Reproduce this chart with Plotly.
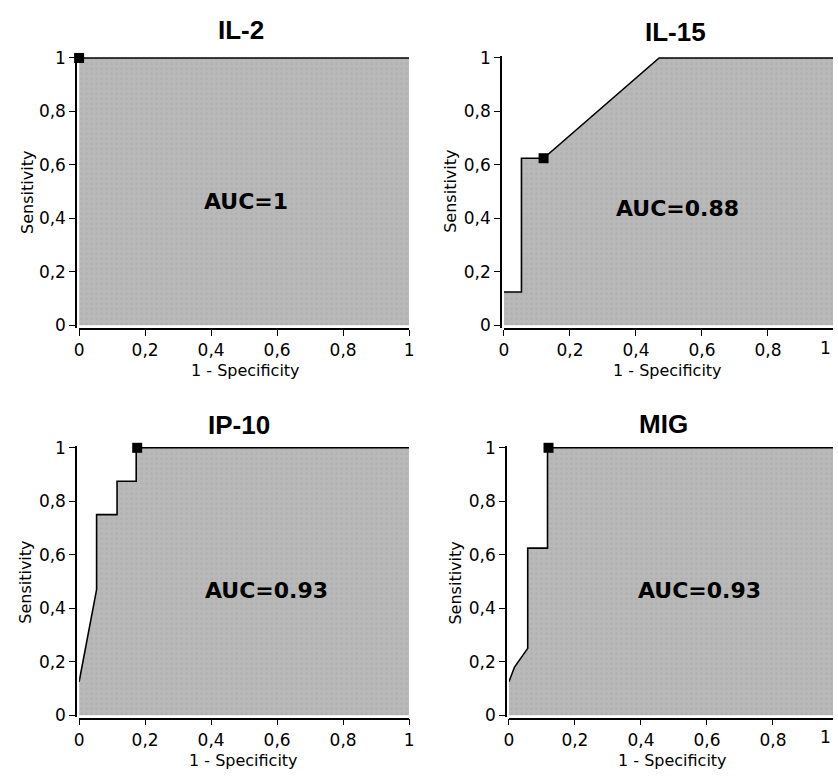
import plotly.graph_objects as go

W, H = 838, 781

# ---- data ----
titles = ["IL-2", "IL-15", "IP-10", "MIG"]
auc_labels = ["AUC=1", "AUC=0.88", "AUC=0.93", "AUC=0.93"]

il2_fpr = [0, 1]
il2_tpr = [1, 1]
il15_fpr = [0, 0.053, 0.053, 0.12, 0.47, 1]
il15_tpr = [0.125, 0.125, 0.625, 0.625, 1, 1]
ip10_fpr = [0, 0.053, 0.053, 0.115, 0.115, 0.173, 0.173, 1]
ip10_tpr = [0.125, 0.47, 0.75, 0.75, 0.875, 0.875, 1, 1]
mig_fpr = [0, 0.017, 0.057, 0.057, 0.117, 0.117, 1]
mig_tpr = [0.125, 0.18, 0.25, 0.625, 0.625, 1, 1]

cut_fpr = [0.0, 0.12, 0.176, 0.12]
cut_tpr = [1.0, 0.625, 1.0, 1.0]

auc_x = [0.505, 0.525, 0.568, 0.577]
auc_y = [0.463, 0.4375, 0.465, 0.465]

tick_vals = [0, 0.2, 0.4, 0.6, 0.8, 1]
tick_text = ["0", "0,2", "0,4", "0,6", "0,8", "1"]

curves = [(il2_fpr, il2_tpr), (il15_fpr, il15_tpr), (ip10_fpr, ip10_tpr), (mig_fpr, mig_tpr)]

# ---- layout geometry (pixels) ----
panels = [
    dict(x0=75, y_line=72, y0=324, y1=51, x_line=328),
    dict(x0=505, y_line=502, y0=324, y1=51, x_line=328),
    dict(x0=75, y_line=72, y0=722, y1=449, x_line=725.5),
    dict(x0=510, y_line=507, y0=722, y1=449, x_line=725.5),
]
SX = 334.0
title_pos = [(239, 22), (679, 24), (237, 426), (666, 425)]
xt_pos = [(243, 370), (671, 370), (241, 768), (676, 768)]
yt_pos = [(22, 188), (451, 187), (21, 586), (456, 587)]

def px(x):
    return x / W

def py(y):
    return 1 - y / H

font_tick = dict(family="DejaVu Sans", size=17, color="black")
fig = go.Figure()
annotations = []
layout = dict(
    width=W, height=H, autosize=False,
    margin=dict(l=0, r=0, t=0, b=0),
    plot_bgcolor="white", paper_bgcolor="white",
    showlegend=False,
)

for i, p in enumerate(panels):
    n = "" if i == 0 else str(i + 1)
    xa, ya = "x" + n, "y" + n
    ymin, ymax = -0.008, 1.006
    sy = (p["y0"] - p["y1"])
    dom_y0 = p["y0"] - ymin * sy
    dom_y1 = p["y1"] - (ymax - 1) * sy
    x_end_px = min(p["x0"] + SX, W)
    x_range_end = (x_end_px - p["x0"]) / SX
    layout["xaxis" + n] = dict(
        domain=[px(p["x0"]), px(x_end_px)], range=[0, x_range_end],
        anchor="free", position=py(p["x_line"]),
        showline=True, linecolor="black", linewidth=1.6,
        ticks="outside", ticklen=6, tickwidth=1.4, tickcolor="black",
        tickvals=tick_vals, ticktext=tick_text, tickfont=font_tick,
        showgrid=False, zeroline=False, fixedrange=True,
    )
    layout["yaxis" + n] = dict(
        domain=[py(dom_y0), py(dom_y1)], range=[ymin, ymax],
        anchor="free", position=px(p["y_line"]),
        showline=True, linecolor="black", linewidth=1.6,
        ticks="outside", ticklen=6, tickwidth=1.4, tickcolor="black",
        tickvals=tick_vals, ticktext=tick_text, tickfont=font_tick,
        showgrid=False, zeroline=False, fixedrange=True,
    )
    fx, fy = curves[i]
    fig.add_trace(go.Scatter(
        x=fx, y=fy, xaxis=xa, yaxis=ya, mode="lines",
        line=dict(color="black", width=1.6),
        fill="tozeroy", fillcolor="#b8b8b8",
        fillpattern=dict(shape=".", bgcolor="#b9b9b9", fgcolor="#a6a6a6",
                         size=5, solidity=0.2),
        hoverinfo="skip",
    ))
    fig.add_trace(go.Scatter(
        x=[cut_fpr[i]], y=[cut_tpr[i]], xaxis=xa, yaxis=ya, mode="markers",
        marker=dict(symbol="square", size=10, color="black"),
        cliponaxis=False, hoverinfo="skip",
    ))
    annotations.append(dict(
        x=auc_x[i], y=auc_y[i], xref=xa, yref=ya, text="<b>" + auc_labels[i] + "</b>",
        showarrow=False, font=dict(family="DejaVu Sans", size=22, color="black"),
        xanchor="center", yanchor="middle",
    ))
    annotations.append(dict(
        x=px(title_pos[i][0]), y=py(title_pos[i][1]), xref="paper", yref="paper",
        text="<b>" + titles[i] + "</b>", showarrow=False,
        font=dict(family="Liberation Sans, Arial", size=26, color="black"),
        xanchor="center", yanchor="middle",
    ))
    annotations.append(dict(
        x=px(xt_pos[i][0]), y=py(xt_pos[i][1]), xref="paper", yref="paper",
        text="1 - Specificity", showarrow=False,
        font=dict(family="DejaVu Sans", size=16, color="black"),
        xanchor="center", yanchor="middle",
    ))
    annotations.append(dict(
        x=px(yt_pos[i][0]), y=py(yt_pos[i][1]), xref="paper", yref="paper",
        text="Sensitivity", showarrow=False, textangle=-90,
        font=dict(family="DejaVu Sans", size=16, color="black"),
        xanchor="center", yanchor="middle",
    ))
    if p["x0"] + SX > W:
        # tick label "1" at the right edge (its tick lies just beyond the frame)
        annotations.append(dict(
            x=1.0, y=py(p["x_line"] + 19), xref="paper", yref="paper",
            text="1", showarrow=False, font=font_tick,
            xanchor="right", yanchor="middle",
        ))

layout["annotations"] = annotations
fig.update_layout(**layout)
fig.write_html(
    "out.html",
    config={"displayModeBar": False},
    post_script="document.body.style.margin='0';document.body.style.overflow='hidden';",
)
